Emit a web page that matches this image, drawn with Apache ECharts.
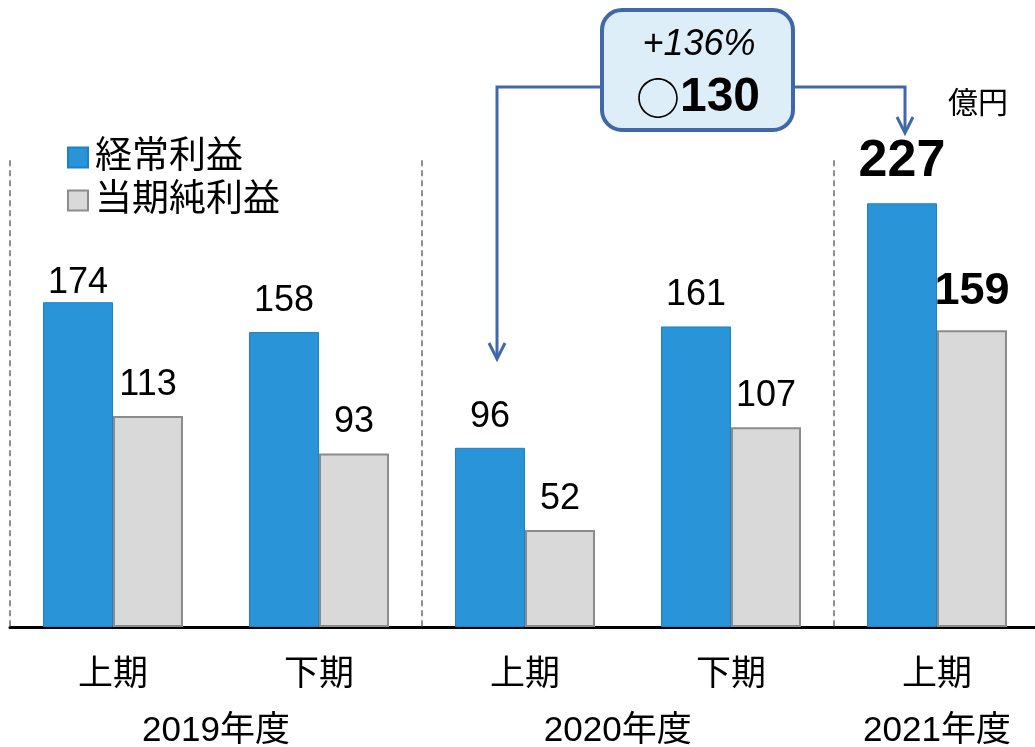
<!DOCTYPE html>
<html>
<head>
<meta charset="utf-8">
<script src="https://cdn.jsdelivr.net/npm/echarts@6/dist/echarts.min.js"></script>
<style>
html,body{margin:0;padding:0;background:#fff;overflow:hidden;}
#chart{width:1040px;height:747px;}
</style>
</head>
<body>
<div id="chart"></div>
<script>
const periods = ['上期', '下期', '上期', '下期', '上期'];
const ordinaryProfit = [174, 158, 96, 161, 227];
const netProfit = [113, 93, 52, 107, 159];
const seriesNames = ['経常利益', '当期純利益'];
const fiscalYears = ['2019年度', '2020年度', '2021年度'];
const fiscalYearCenters = [1, 2.95, 4.5];
const dividerPositions = [0, 2, 4];
const unitLabel = '億円';
const changePct = '+136%';
const changeAmount = '130';

const FONT = '"Liberation Sans", Arial, "Noto Sans CJK JP", sans-serif';
const BLUE = '#2994d8';
const GRAY = '#d9d9d9';

function labelFor(seriesIdx, i) {
  // highlight the latest period with bold large labels
  const last = i === periods.length - 1;
  if (last) {
    return { fontWeight: 'bold', fontSize: seriesIdx === 0 ? 52 : 45, distance: 16 };
  }
  return null;
}

const blueData = ordinaryProfit.map((v, i) => {
  const o = { value: v };
  const l = labelFor(0, i);
  if (l) o.label = l;
  if (i === 0) o.label = { distance: 1 };
  return o;
});
const grayData = netProfit.map((v, i) => {
  const o = { value: v };
  const l = labelFor(1, i);
  if (l) o.label = l;
  return o;
});

const chart = echarts.init(document.getElementById('chart'), null, { renderer: 'canvas' });

const option = {
  animation: false,
  backgroundColor: '#fff',
  textStyle: { fontFamily: FONT },
  grid: { left: 10, right: 0, top: 67, bottom: 120 },
  legend: {
    orient: 'vertical',
    left: 62,
    top: 134,
    itemWidth: 20,
    itemHeight: 20,
    itemGap: 6,
    icon: 'rect',
    data: seriesNames,
    textStyle: { fontSize: 37, color: '#000', fontFamily: FONT, padding: [0, 0, 0, 2] }
  },
  xAxis: [
    {
      type: 'category',
      data: periods,
      axisLine: { show: true, lineStyle: { color: '#000', width: 3 } },
      axisTick: { show: false },
      axisLabel: { fontSize: 35, color: '#000', margin: 31, fontFamily: FONT }
    },
    {
      type: 'value',
      min: 0,
      max: periods.length,
      show: false
    }
  ],
  yAxis: {
    type: 'value',
    min: 0,
    max: 300,
    show: false,
    splitLine: { show: false }
  },
  series: [
    {
      name: seriesNames[0],
      type: 'bar',
      data: blueData,
      barWidth: 70,
      barGap: '0%',
      itemStyle: { color: BLUE, borderColor: '#1f80c4', borderWidth: 1 },
      label: { show: true, position: 'top', distance: 13, fontSize: 36, color: '#000', fontFamily: FONT }
    },
    {
      name: seriesNames[1],
      type: 'bar',
      data: grayData,
      barWidth: 70,
      barGap: '0%',
      itemStyle: { color: GRAY, borderColor: '#8c8c8c', borderWidth: 2 },
      label: { show: true, position: 'top', distance: 13, fontSize: 36, color: '#000', fontFamily: FONT }
    },
    {
      name: 'years',
      type: 'scatter',
      xAxisIndex: 1,
      clip: false,
      symbolSize: 0,
      silent: true,
      itemStyle: { opacity: 1 },
      data: fiscalYears.map((y, i) => ({ name: y, value: [fiscalYearCenters[i], -56] })),
      label: {
        show: true,
        position: 'inside',
        formatter: p => p.name,
        fontSize: 35,
        color: '#000',
        opacity: 1,
        fontFamily: FONT
      },
      markLine: {
        silent: true,
        symbol: 'none',
        label: { show: false },
        lineStyle: { color: '#8f8f8f', width: 2, type: [6, 4], opacity: 1 },
        data: dividerPositions.map(x => [{ coord: [x, 250] }, { coord: [x, 0] }])
      }
    }
  ],
  graphic: [
    { type: 'polyline', z: 10, shape: { points: [[600, 87], [497, 87], [497, 358]] }, style: { stroke: '#4169aa', lineWidth: 3, fill: null } },
    { type: 'polyline', z: 10, shape: { points: [[489, 343], [497, 359], [505, 343]] }, style: { stroke: '#4169aa', lineWidth: 3, fill: null } },
    { type: 'polyline', z: 10, shape: { points: [[794, 87], [905, 87], [905, 132]] }, style: { stroke: '#4169aa', lineWidth: 3, fill: null } },
    { type: 'polyline', z: 10, shape: { points: [[897, 117], [905, 133], [913, 117]] }, style: { stroke: '#4169aa', lineWidth: 3, fill: null } },
    { type: 'rect', z: 11, shape: { x: 602, y: 10, width: 191, height: 120, r: 20 }, style: { fill: '#deeef9', stroke: '#4068a8', lineWidth: 4 } },
    { type: 'text', z: 12, x: 699, y: 45, style: { text: changePct, fontSize: 36, fontStyle: 'italic', fontFamily: FONT, fill: '#000', align: 'center', verticalAlign: 'middle' } },
    { type: 'text', z: 12, x: 698, y: 98, style: {
        text: '{c|○}{n|' + changeAmount + '}',
        align: 'center', verticalAlign: 'middle',
        rich: {
          c: { fontSize: 44, fontFamily: '"Noto Sans CJK JP", sans-serif', fill: '#000' },
          n: { fontSize: 48, fontWeight: 'bold', fontFamily: FONT, fill: '#000' }
        }
      } },
    { type: 'text', z: 12, x: 978, y: 105, style: { text: unitLabel, fontSize: 30, fontFamily: FONT, fill: '#000', align: 'center', verticalAlign: 'middle' } }
  ]
};

chart.setOption(option);
</script>
</body>
</html>
